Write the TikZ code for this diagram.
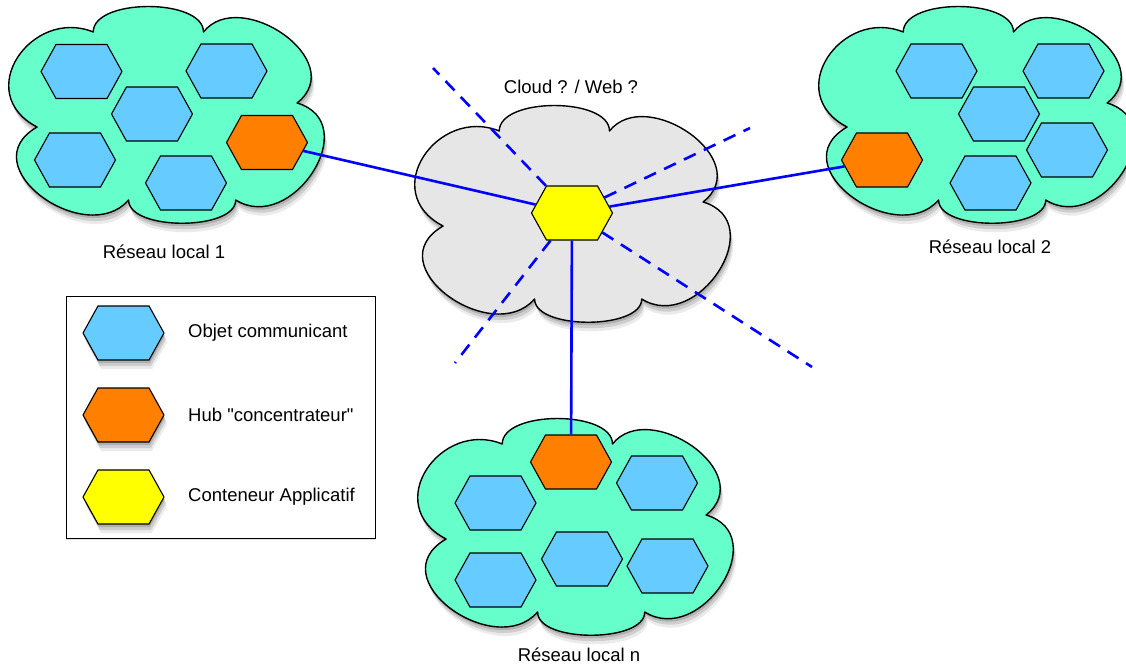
\documentclass[tikz,border=0pt]{standalone}
\usepackage{fontspec}
\setmainfont{Liberation Sans}
\newfontfamily\lblfont{Liberation Sans}
\usetikzlibrary{shapes.symbols,shadows,positioning}

\definecolor{lanfill}{HTML}{66FFCC}
\definecolor{webfill}{HTML}{E6E6E6}
\definecolor{objfill}{HTML}{66CCFF}
\definecolor{hubfill}{HTML}{FF8000}
\definecolor{appfill}{HTML}{FFFF00}
\definecolor{linkblue}{HTML}{0000FF}

% cloud outline: #1 centre, #2 fill colour
\newcommand{\netcloud}[2]{%
  \begin{scope}[shift={(#1)}, xscale=1.04]
    \draw[puffy, fill=#2] (-69,-89)
      .. controls (-69,-123) and (37,-123) .. (37,-89)
      .. controls (72,-135) and (178,-60) .. (127,-18)
      .. controls (192,2) and (122,114) .. (68,79)
      .. controls (68,110) and (-35,110) .. (-35,79)
      .. controls (-76,128) and (-188,45) .. (-123,6)
      .. controls (-186,-28) and (-128,-114) .. (-69,-89) -- cycle;
  \end{scope}}

\begin{document}
\begin{tikzpicture}[
    x=1pt, y=-1pt,
    shade/.style={drop shadow={shadow xshift=1pt, shadow yshift=-3pt, opacity=0.15, fill=black},
        drop shadow={shadow xshift=2pt, shadow yshift=-6pt, opacity=0.12, fill=black},
        drop shadow={shadow xshift=3pt, shadow yshift=-9pt, opacity=0.08, fill=black}},
    puffy/.style={draw, line width=1.4pt, line join=round, shade},
    hexa/.style={signal, signal to=east and west, signal pointer angle=122, draw, line width=1.1pt,
        minimum width=81pt, minimum height=54pt, inner sep=0pt},
    obj/.style={hexa, fill=objfill},
    hub/.style={hexa, fill=hubfill},
    appli/.style={hexa, fill=appfill},
    link/.style={linkblue, line width=2.6pt},
    maybe/.style={link, dash pattern=on 13pt off 9pt},
    lbl/.style={font=\lblfont\fontsize{18.5}{22}\selectfont, inner sep=0pt}
]
    \useasboundingbox (0,0) rectangle (1126,665);

    % the clouds
    \coordinate (lan1) at (165,121);
    \coordinate (lan2) at (975,121);
    \coordinate (lann) at (574,533);
    \coordinate (web) at (571,220);
    \netcloud{lan1}{lanfill}
    \netcloud{lan2}{lanfill}
    \netcloud{lann}{lanfill}
    \netcloud{web}{webfill}

    \node[lbl] (lan1txt) at (164,252) {Réseau local 1};
    \node[lbl] (lan2txt) at (990,247) {Réseau local 2};
    \node[lbl] (lanntxt) at (579,655) {Réseau local n};
    \node[lbl] (webtxt) at (571,87) {Cloud ? / Web ?};

    % local network 1
    \node[obj] (o11) at (81.5,71.5) {};
    \node[obj] (o12) at (226.5,71) {};
    \node[obj] (o13) at (152,114) {};
    \node[obj] (o14) at (75,160) {};
    \node[obj] (o15) at (186,183) {};
    \node[hub] (hub1) at (267,142.5) {};

    % local network 2
    \node[obj] (o21) at (936.5,71) {};
    \node[obj] (o22) at (1063.5,71) {};
    \node[obj] (o23) at (999,114) {};
    \node[obj] (o24) at (1067,150) {};
    \node[obj] (o25) at (990.5,183) {};
    \node[hub] (hub2) at (882,160) {};

    % local network n
    \node[obj] (on1) at (657,483) {};
    \node[obj] (on2) at (495.5,503) {};
    \node[obj] (on3) at (495.5,580) {};
    \node[obj] (on4) at (582,559) {};
    \node[obj] (on5) at (667.5,566) {};
    \node[hub] (hubn) at (571,462) {};

    % application container
    \node[appli] (app) at (572,213) {};

    \coordinate (e1) at (433,68);
    \coordinate (e2) at (750,128);
    \coordinate (e3) at (455,363);
    \coordinate (e4) at (812,367);

    \draw[link] (hub1) -- (app);
    \draw[link] (app) -- (hub2);
    \draw[link] (app) -- (hubn);
    \foreach \e in {e1,e2,e3,e4}
        \draw[maybe] (app) -- (\e);

    % legend
    \node[draw, line width=1pt, fill=white, minimum width=309pt, minimum height=242pt,
        drop shadow={shadow xshift=0pt, shadow yshift=-2pt, opacity=0.12, fill=black}] (legend) at (220.5,417) {};
    \node[obj, shade] (legobj) at (123.5,333) {};
    \node[hub, shade] (leghub) at (123.5,415) {};
    \node[appli, shade] (legapp) at (123.5,497) {};
    \node[lbl, anchor=west] (legobjtxt) at (188,333) {Objet communicant};
    \node[lbl, anchor=west] (leghubtxt) at (188,415) {Hub "concentrateur"};
    \node[lbl, anchor=west] (legapptxt) at (188,497) {Conteneur Applicatif};
\end{tikzpicture}
\end{document}
